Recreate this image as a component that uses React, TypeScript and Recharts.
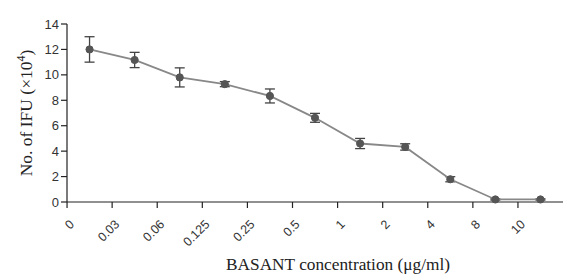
import React from 'react';
import { ComposedChart, Line, XAxis, YAxis, ErrorBar } from 'recharts';

const concentrations = ['0', '0.03', '0.06', '0.125', '0.25', '0.5', '1', '2', '4', '8', '10'];
const ifuMeans = [12.0, 11.17, 9.8, 9.27, 8.34, 6.62, 4.6, 4.33, 1.79, 0.2, 0.2];
const ifuErrors = [1.0, 0.6, 0.75, 0.2, 0.55, 0.35, 0.4, 0.25, 0.2, 0.05, 0.05];
const yTicks = [0, 2, 4, 6, 8, 10, 12, 14];

const data = concentrations.map((c, i) => ({ c, v: ifuMeans[i], e: ifuErrors[i] }));

const CHART_H = 275;
const XAXIS_H = 73;
const AXIS_Y = CHART_H - XAXIS_H;
const BAND = 45;

const XTick = (props: any) => {
  const { x, payload } = props;
  const tx = x - BAND / 2;
  const ax = tx + 8;
  const ay = AXIS_Y + 23;
  return (
    <g>
      <line x1={tx} y1={AXIS_Y} x2={tx} y2={AXIS_Y + 6} stroke="#222" strokeWidth={1.2} />
      <text
        x={ax}
        y={ay}
        textAnchor="end"
        transform={`rotate(-45, ${ax}, ${ay})`}
        fontFamily="Liberation Sans, Arial, sans-serif"
        fontSize={12.5}
        fill="#333"
      >
        {payload.value}
      </text>
    </g>
  );
};

const XTitle = (props: any) => {
  const vb = props.viewBox;
  return (
    <text
      x={338}
      y={vb.y + vb.height - 5}
      textAnchor="middle"
      fontFamily="Liberation Serif, Times New Roman, serif"
      fontSize={17.3}
      fill="#222"
    >
      BASANT concentration (μg/ml)
    </text>
  );
};

const YTitle = (props: any) => {
  const vb = props.viewBox;
  const cx = 32;
  const cy = vb.y + vb.height / 2;
  return (
    <text
      x={cx}
      y={cy}
      transform={`rotate(-90, ${cx}, ${cy})`}
      textAnchor="middle"
      fontFamily="Liberation Serif, Times New Roman, serif"
      fontSize={17.5}
      fill="#222"
    >
      No. of IFU (×10
      <tspan dy={-7} fontSize={12}>4</tspan>
      <tspan dy={7}>)</tspan>
    </text>
  );
};

export default function App() {
  return (
    <div style={{ position: 'absolute', left: 0, top: 0, background: '#fff' }}>
      <ComposedChart
        width={565}
        height={CHART_H}
        data={data}
        margin={{ top: 24, right: 2, left: 0, bottom: 0 }}
      >
        <XAxis
          dataKey="c"
          scale="band"
          height={XAXIS_H}
          tick={<XTick />}
          tickLine={false}
          interval={0}
          axisLine={{ stroke: '#222', strokeWidth: 1.2 }}
          label={<XTitle />}
        />
        <YAxis
          domain={[0, 14]}
          ticks={yTicks}
          width={67}
          tickSize={6}
          tick={{ fontFamily: 'Liberation Sans, Arial, sans-serif', fontSize: 13, fill: '#333' }}
          tickLine={{ stroke: '#222', strokeWidth: 1.2 }}
          axisLine={{ stroke: '#222', strokeWidth: 1.2 }}
          label={<YTitle />}
        />
        <Line
          dataKey="v"
          stroke="#888"
          strokeWidth={1.8}
          isAnimationActive={false}
          dot={{ r: 3.6, fill: '#555', stroke: '#555', strokeWidth: 1 }}
          activeDot={false}
        >
          <ErrorBar dataKey="e" width={5} stroke="#444" strokeWidth={1.3} isAnimationActive={false} />
        </Line>
      </ComposedChart>
    </div>
  );
}
